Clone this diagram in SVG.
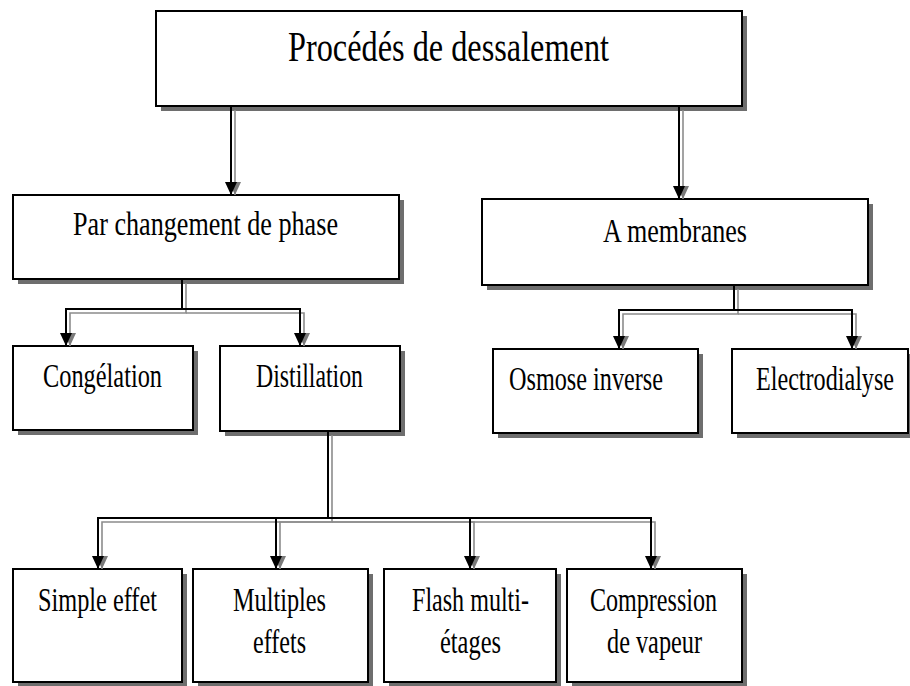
<svg xmlns="http://www.w3.org/2000/svg" width="910" height="686" viewBox="0 0 910 686">
  <style>
    .box { fill: #ffffff; stroke: #000000; stroke-width: 2; }
    .shadow { fill: #6e6e6e; }
    .lbl { font-family: "Liberation Serif", "Times New Roman", serif; font-size: 33px; fill: #000000; }
    .title { font-size: 43px; }
    .wire { fill: none; stroke: #000000; stroke-width: 2; marker-end: url(#tip); }
    .wire-sh { fill: none; stroke: #8c8c8c; stroke-width: 1.6; marker-end: url(#tip-sh); }
  </style>
  <defs>
    <marker id="tip" markerUnits="userSpaceOnUse" markerWidth="14" markerHeight="14" viewBox="0 0 14 14" refX="13" refY="7" orient="auto">
      <path d="M0,1 L13,7 L0,13 Z" fill="#000000"/>
    </marker>
    <marker id="tip-sh" markerUnits="userSpaceOnUse" markerWidth="14" markerHeight="14" viewBox="0 0 14 14" refX="13" refY="7" orient="auto">
      <path d="M0,1 L13,7 L0,13 Z" fill="#7a7a7a"/>
    </marker>
  </defs>
  <rect width="910" height="686" fill="#ffffff"/>

  <!-- boxes, each with an offset drop shadow -->
  <g id="root">
    <rect class="shadow" x="161" y="16" width="586" height="95"/>
    <rect class="box" x="156" y="11" width="586" height="95"/>
    <text class="lbl title" x="288" y="61" textLength="321" lengthAdjust="spacingAndGlyphs">Procédés de dessalement</text>
  </g>
  <g id="phase">
    <rect class="shadow" x="18" y="200" width="386" height="84"/>
    <rect class="box" x="13" y="195" width="386" height="84"/>
    <text class="lbl" x="73" y="235" textLength="265" lengthAdjust="spacingAndGlyphs">Par changement de phase</text>
  </g>
  <g id="membranes">
    <rect class="shadow" x="487" y="204" width="386" height="86"/>
    <rect class="box" x="482" y="199" width="386" height="86"/>
    <text class="lbl" x="603" y="242" textLength="144" lengthAdjust="spacingAndGlyphs">A membranes</text>
  </g>
  <g id="congelation">
    <rect class="shadow" x="18" y="351" width="180" height="84"/>
    <rect class="box" x="13" y="346" width="180" height="84"/>
    <text class="lbl" x="43" y="387" textLength="119" lengthAdjust="spacingAndGlyphs">Congélation</text>
  </g>
  <g id="distillation">
    <rect class="shadow" x="225" y="351" width="180" height="85"/>
    <rect class="box" x="220" y="346" width="180" height="85"/>
    <text class="lbl" x="256" y="387" textLength="107" lengthAdjust="spacingAndGlyphs">Distillation</text>
  </g>
  <g id="osmose">
    <rect class="shadow" x="498" y="354" width="205" height="84"/>
    <rect class="box" x="493" y="349" width="205" height="84"/>
    <text class="lbl" x="509" y="390" textLength="154" lengthAdjust="spacingAndGlyphs">Osmose inverse</text>
  </g>
  <g id="electrodialyse">
    <rect class="shadow" x="737" y="354" width="180" height="84"/>
    <rect class="box" x="732" y="349" width="176" height="84"/>
    <text class="lbl" x="756" y="390" textLength="138" lengthAdjust="spacingAndGlyphs">Electrodialyse</text>
  </g>
  <g id="simple">
    <rect class="shadow" x="18" y="574" width="169" height="113"/>
    <rect class="box" x="13" y="569" width="169" height="113"/>
    <text class="lbl" x="38" y="611" textLength="119" lengthAdjust="spacingAndGlyphs">Simple effet</text>
  </g>
  <g id="multiples">
    <rect class="shadow" x="198" y="574" width="175" height="113"/>
    <rect class="box" x="193" y="569" width="175" height="113"/>
    <text class="lbl" x="233" y="611" textLength="93" lengthAdjust="spacingAndGlyphs">Multiples</text>
    <text class="lbl" x="253" y="653" textLength="53" lengthAdjust="spacingAndGlyphs">effets</text>
  </g>
  <g id="flash">
    <rect class="shadow" x="389" y="574" width="172" height="113"/>
    <rect class="box" x="384" y="569" width="172" height="113"/>
    <text class="lbl" x="412" y="611" textLength="117" lengthAdjust="spacingAndGlyphs">Flash multi-</text>
    <text class="lbl" x="440" y="653" textLength="61" lengthAdjust="spacingAndGlyphs">étages</text>
  </g>
  <g id="compression">
    <rect class="shadow" x="572" y="574" width="175" height="113"/>
    <rect class="box" x="567" y="569" width="175" height="113"/>
    <text class="lbl" x="590" y="611" textLength="127" lengthAdjust="spacingAndGlyphs">Compression</text>
    <text class="lbl" x="607" y="653" textLength="95" lengthAdjust="spacingAndGlyphs">de vapeur</text>
  </g>

  <!-- connectors: grey offset shadow first, black line on top -->
  <g id="connectors">
    <g transform="translate(4,4)">
      <path class="wire-sh" d="M231,106 V191"/>
      <path class="wire-sh" d="M679,106 V195"/>
      <path class="wire-sh" d="M182,279 V309 H66 V342"/>
      <path class="wire-sh" d="M182,309 H300 V342"/>
      <path class="wire-sh" d="M734,285 V310 H619 V345"/>
      <path class="wire-sh" d="M734,310 H852 V345"/>
      <path class="wire-sh" d="M328,431 V518 H98 V565"/>
      <path class="wire-sh" d="M328,518 H276 V565"/>
      <path class="wire-sh" d="M328,518 H470 V565"/>
      <path class="wire-sh" d="M328,518 H651 V565"/>
    </g>
    <path class="wire" d="M231,106 V195"/>
    <path class="wire" d="M679,106 V199"/>
    <path class="wire" d="M182,279 V309 H66 V346"/>
    <path class="wire" d="M182,309 H300 V346"/>
    <path class="wire" d="M734,285 V310 H619 V349"/>
    <path class="wire" d="M734,310 H852 V349"/>
    <path class="wire" d="M328,431 V518 H98 V569"/>
    <path class="wire" d="M328,518 H276 V569"/>
    <path class="wire" d="M328,518 H470 V569"/>
    <path class="wire" d="M328,518 H651 V569"/>
  </g>
</svg>
